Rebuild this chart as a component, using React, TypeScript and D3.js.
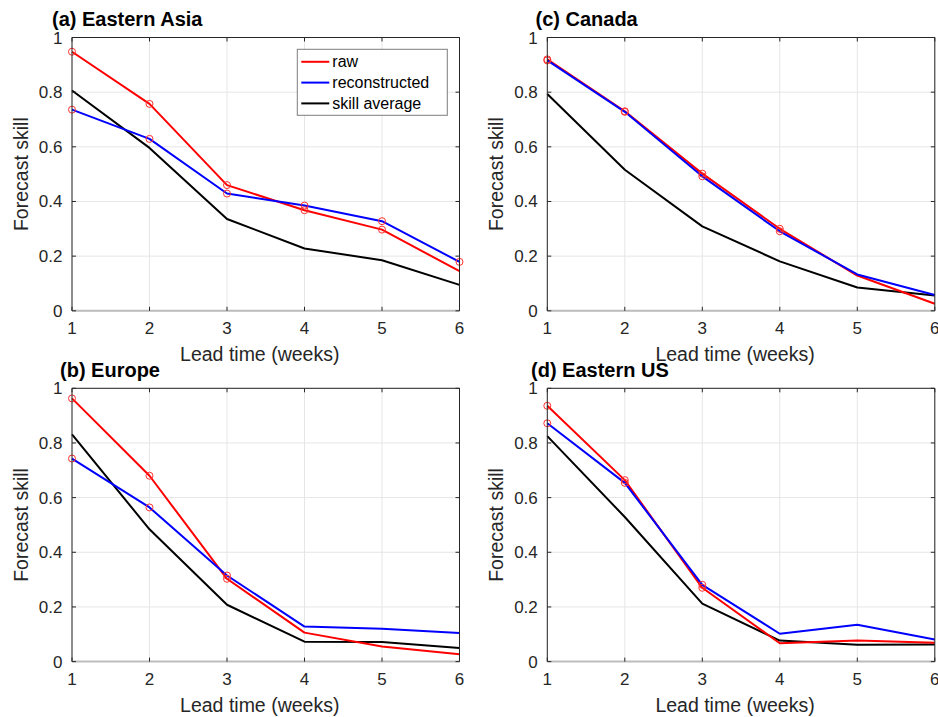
import React, { useEffect, useRef } from 'react';
import * as d3 from 'd3';

// Lead times (weeks) and tick labels
const leads = [1, 2, 3, 4, 5, 6];
const yTicks = [0, 0.2, 0.4, 0.6, 0.8, 1];

// (a) Eastern Asia
const asiaRaw = [0.948, 0.757, 0.46, 0.368, 0.297, 0.145];
const asiaRecon = [0.736, 0.629, 0.429, 0.385, 0.328, 0.179];
const asiaAvg = [0.806, 0.596, 0.336, 0.228, 0.185, 0.095];
const asiaRawMarks = [1, 2, 3, 4, 5];
const asiaReconMarks = [1, 2, 3, 4, 5, 6];

// (b) Europe
const europeRaw = [0.963, 0.68, 0.303, 0.106, 0.055, 0.027];
const europeRecon = [0.743, 0.564, 0.315, 0.128, 0.12, 0.105];
const europeAvg = [0.831, 0.484, 0.208, 0.073, 0.072, 0.05];
const europeRawMarks = [1, 2, 3];
const europeReconMarks = [1, 2, 3];

// (c) Canada
const canadaRaw = [0.92, 0.73, 0.502, 0.3, 0.129, 0.026];
const canadaRecon = [0.916, 0.728, 0.492, 0.291, 0.133, 0.058];
const canadaAvg = [0.793, 0.516, 0.309, 0.181, 0.085, 0.056];
const canadaRawMarks = [1, 2, 3, 4];
const canadaReconMarks = [1, 2, 3, 4];

// (d) Eastern US
const usRaw = [0.936, 0.664, 0.27, 0.067, 0.077, 0.069];
const usRecon = [0.872, 0.654, 0.281, 0.102, 0.135, 0.081];
const usAvg = [0.825, 0.529, 0.212, 0.077, 0.062, 0.063];
const usRawMarks = [1, 2, 3];
const usReconMarks = [1, 2, 3];

const seriesNames = ['raw', 'reconstructed', 'skill average'];

const panels = [
  { title: '(a) Eastern Asia', raw: asiaRaw, recon: asiaRecon, avg: asiaAvg, rawMarks: asiaRawMarks, reconMarks: asiaReconMarks, left: 72, top: 37.5, titleX: 52, titleY: 26, legend: true },
  { title: '(b) Europe', raw: europeRaw, recon: europeRecon, avg: europeAvg, rawMarks: europeRawMarks, reconMarks: europeReconMarks, left: 72, top: 388.3, titleX: 60, titleY: 377, legend: false },
  { title: '(c) Canada', raw: canadaRaw, recon: canadaRecon, avg: canadaAvg, rawMarks: canadaRawMarks, reconMarks: canadaReconMarks, left: 547.3, top: 37.5, titleX: 535.5, titleY: 26, legend: false },
  { title: '(d) Eastern US', raw: usRaw, recon: usRecon, avg: usAvg, rawMarks: usRawMarks, reconMarks: usReconMarks, left: 547.3, top: 388.3, titleX: 531, titleY: 377, legend: false },
];

const FONT = '"Liberation Sans", Arial, Helvetica, sans-serif';
const AXIS = '#262626';

const App = () => {
  const svgRef = useRef<SVGSVGElement>(null);

  useEffect(() => {
    const svg = d3.select(svgRef.current);
    svg.selectAll('*').remove();

    const w = 387.5;
    const h = 273.3;

    panels.forEach(p => {
      const g = svg.append('g').attr('transform', `translate(${p.left},${p.top})`);

      const x = d3.scaleLinear().domain([1, 6]).range([0, w]);
      const y = d3.scaleLinear().domain([0, 1]).range([h, 0]);

      // white background
      g.append('rect').attr('width', w).attr('height', h).attr('fill', '#fff');

      // grid
      g.selectAll('.gx')
        .data(leads)
        .enter()
        .append('line')
        .attr('x1', d => x(d)).attr('x2', d => x(d))
        .attr('y1', 0).attr('y2', h)
        .attr('stroke', '#e6e6e6').attr('stroke-width', 1);
      g.selectAll('.gy')
        .data(yTicks)
        .enter()
        .append('line')
        .attr('x1', 0).attr('x2', w)
        .attr('y1', d => y(d)).attr('y2', d => y(d))
        .attr('stroke', '#e6e6e6').attr('stroke-width', 1);

      // data lines
      const line = d3.line<number>()
        .x((d, i) => x(leads[i]))
        .y(d => y(d));

      const drawLine = (vals: number[], color: string) => {
        g.append('path')
          .datum(vals)
          .attr('fill', 'none')
          .attr('stroke', color)
          .attr('stroke-width', 2)
          .attr('stroke-linejoin', 'round')
          .attr('d', line);
      };
      drawLine(p.avg, '#000000');
      drawLine(p.raw, '#ff0000');
      drawLine(p.recon, '#0000ff');

      // circle markers
      const drawMarks = (vals: number[], marks: number[]) => {
        g.selectAll(null)
          .data(marks)
          .enter()
          .append('circle')
          .attr('cx', d => x(d))
          .attr('cy', d => y(vals[d - 1]))
          .attr('r', 3.5)
          .attr('fill', 'none')
          .attr('stroke', '#ff3030')
          .attr('stroke-width', 1);
      };
      drawMarks(p.raw, p.rawMarks);
      drawMarks(p.recon, p.reconMarks);

      // box
      g.append('line').attr('x1', 0).attr('x2', w).attr('y1', 0).attr('y2', 0)
        .attr('stroke', AXIS).attr('stroke-width', 1);
      g.append('line').attr('x1', w).attr('x2', w).attr('y1', 0).attr('y2', h)
        .attr('stroke', AXIS).attr('stroke-width', 1);
      g.append('line').attr('x1', 0).attr('x2', 0).attr('y1', 0).attr('y2', h)
        .attr('stroke', AXIS).attr('stroke-width', 1);
      g.append('line').attr('x1', 0).attr('x2', w).attr('y1', h).attr('y2', h)
        .attr('stroke', '#bdbdbd').attr('stroke-width', 2);

      // inward ticks on all sides
      const tl = 4;
      leads.forEach(d => {
        g.append('line').attr('x1', x(d)).attr('x2', x(d)).attr('y1', h).attr('y2', h - tl).attr('stroke', AXIS);
        g.append('line').attr('x1', x(d)).attr('x2', x(d)).attr('y1', 0).attr('y2', tl).attr('stroke', AXIS);
      });
      yTicks.forEach(d => {
        g.append('line').attr('x1', 0).attr('x2', tl).attr('y1', y(d)).attr('y2', y(d)).attr('stroke', AXIS);
        g.append('line').attr('x1', w).attr('x2', w - tl).attr('y1', y(d)).attr('y2', y(d)).attr('stroke', AXIS);
      });

      // tick labels
      g.selectAll('.xt')
        .data(leads)
        .enter()
        .append('text')
        .attr('x', d => x(d))
        .attr('y', h + 23.5)
        .attr('text-anchor', 'middle')
        .style('font-family', FONT)
        .style('font-size', '17px')
        .style('fill', AXIS)
        .text(d => d3.format('d')(d));
      g.selectAll('.yt')
        .data(yTicks)
        .enter()
        .append('text')
        .attr('x', -9.5)
        .attr('y', d => y(d) + 6)
        .attr('text-anchor', 'end')
        .style('font-family', FONT)
        .style('font-size', '17px')
        .style('fill', AXIS)
        .text(d => (d === 0 ? '0' : d === 1 ? '1' : d3.format('.1f')(d)));

      // axis labels
      g.append('text')
        .attr('x', w / 2 - 6)
        .attr('y', h + 50)
        .attr('text-anchor', 'middle')
        .style('font-family', FONT)
        .style('font-size', '19.5px')
        .style('fill', AXIS)
        .text('Lead time (weeks)');
      g.append('text')
        .attr('transform', `translate(-44,${h / 2}) rotate(-90)`)
        .attr('text-anchor', 'middle')
        .style('font-family', FONT)
        .style('font-size', '19.5px')
        .style('fill', AXIS)
        .text('Forecast skill');

      // title
      svg.append('text')
        .attr('x', p.titleX)
        .attr('y', p.titleY)
        .style('font-family', FONT)
        .style('font-size', '20px')
        .style('font-weight', 'bold')
        .style('fill', '#000')
        .text(p.title);

      // legend
      if (p.legend) {
        const lg = g.append('g').attr('transform', `translate(${297.3 - p.left},${49.3 - p.top})`);
        lg.append('rect')
          .attr('width', 150).attr('height', 66)
          .attr('fill', '#fff')
          .attr('stroke', '#262626').attr('stroke-opacity', 0.6).attr('stroke-width', 1);
        const colors = ['#ff0000', '#0000ff', '#000000'];
        seriesNames.forEach((name, i) => {
          const cy = 12.5 + i * 20.8;
          lg.append('line')
            .attr('x1', 4).attr('x2', 32)
            .attr('y1', cy).attr('y2', cy)
            .attr('stroke', colors[i]).attr('stroke-width', 2);
          lg.append('text')
            .attr('x', 35)
            .attr('y', cy + 5.5)
            .style('font-family', FONT)
            .style('font-size', '16px')
            .style('fill', '#000')
            .text(name);
        });
      }
    });
  }, []);

  return (
    <svg
      ref={svgRef}
      width={938}
      height={717}
      style={{ position: 'absolute', left: 0, top: 0, background: '#fff' }}
    />
  );
};

export default App;
